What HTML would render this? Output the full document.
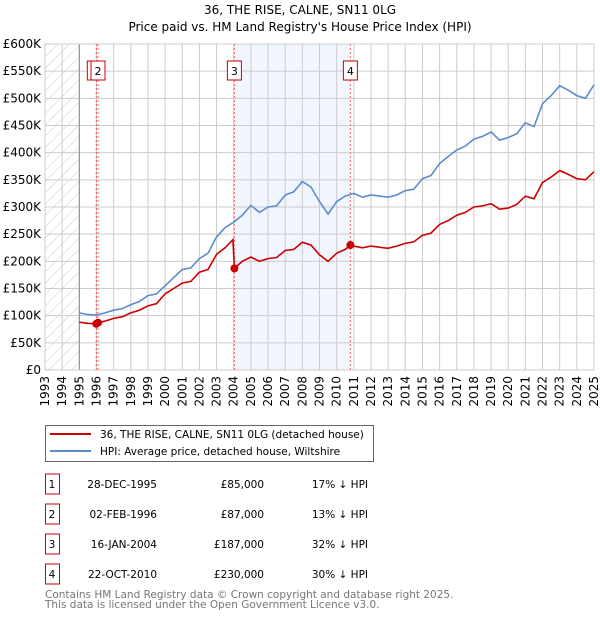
<!DOCTYPE html>
<html><head><meta charset="utf-8"><style>
body{margin:0;background:#fff;font-family:"DejaVu Sans","Liberation Sans",sans-serif;}
svg text{font-family:"DejaVu Sans","Liberation Sans",sans-serif;}
</style></head><body>
<svg id="chart" width="600" height="620" xmlns="http://www.w3.org/2000/svg">
<defs><pattern id="hatch" width="8" height="8" patternUnits="userSpaceOnUse" patternTransform="rotate(45)"><line x1="0" y1="0" x2="0" y2="8" stroke="#ccc" stroke-width="1"/></pattern></defs>
<text x="300" y="14" text-anchor="middle" font-size="12">36, THE RISE, CALNE, SN11 0LG</text>
<text x="300" y="31" text-anchor="middle" font-size="12">Price paid vs. HM Land Registry's House Price Index (HPI)</text>
<g id="plot"></g>
<g>
<rect x="45.5" y="425.5" width="328" height="36" fill="#fff" stroke="#666"/>
<line x1="50" y1="434" x2="91" y2="434" stroke="#cc0000" stroke-width="2"/>
<text x="100" y="438" font-size="10.5">36, THE RISE, CALNE, SN11 0LG (detached house)</text>
<line x1="50" y1="451" x2="91" y2="451" stroke="#5b8ccc" stroke-width="2"/>
<text x="100" y="455" font-size="10.5">HPI: Average price, detached house, Wiltshire</text>
</g>
<g id="table" font-size="10.5"></g>
<text x="45" y="598" font-size="10.5" fill="#777">Contains HM Land Registry data © Crown copyright and database right 2025.</text>
<text x="45" y="608" font-size="10.5" fill="#777">This data is licensed under the Open Government Licence v3.0.</text>
</svg>
<script>
const hpiYears=[1995,1995.5,1996,1996.5,1997,1997.5,1998,1998.5,1999,1999.5,2000,2000.5,2001,2001.5,2002,2002.5,2003,2003.5,2004,2004.5,2005,2005.5,2006,2006.5,2007,2007.5,2008,2008.5,2009,2009.5,2010,2010.5,2011,2011.5,2012,2012.5,2013,2013.5,2014,2014.5,2015,2015.5,2016,2016.5,2017,2017.5,2018,2018.5,2019,2019.5,2020,2020.5,2021,2021.5,2022,2022.5,2023,2023.5,2024,2024.5,2025];
const hpiValues=[105,102,101,105,110,113,120,126,137,140,155,170,185,188,205,215,245,262,272,285,303,290,300,302,322,328,347,337,310,287,310,320,325,318,322,320,318,322,330,333,352,358,380,393,405,412,425,430,438,423,428,435,455,448,490,505,523,515,505,500,525];
const redYears=[1995,1995.5,1995.99,1996.09,1996.5,1997,1997.5,1998,1998.5,1999,1999.5,2000,2000.5,2001,2001.5,2002,2002.5,2003,2003.5,2003.95,2004.04,2004.5,2005,2005.5,2006,2006.5,2007,2007.5,2008,2008.5,2009,2009.5,2010,2010.5,2010.8,2011,2011.5,2012,2012.5,2013,2013.5,2014,2014.5,2015,2015.5,2016,2016.5,2017,2017.5,2018,2018.5,2019,2019.5,2020,2020.5,2021,2021.5,2022,2022.5,2023,2023.5,2024,2024.5,2025];
const redValues=[88,86,85,87,90,95,98,105,110,118,122,140,150,160,163,180,185,213,225,240,187,200,208,200,205,207,220,222,235,230,212,200,215,222,230,228,225,228,226,224,228,233,236,248,252,268,275,285,290,300,302,306,296,298,305,320,315,345,355,367,360,352,350,365];
const saleLabels=["1","2","3","4"];
const saleYears=[1995.99,1996.09,2004.04,2010.8];
const saleValues=[85,87,187,230];
const saleDates=["28-DEC-1995","02-FEB-1996","16-JAN-2004","22-OCT-2010"];
const salePrices=["£85,000","£87,000","£187,000","£230,000"];
const saleDiffs=["17% ↓ HPI","13% ↓ HPI","32% ↓ HPI","30% ↓ HPI"];
const yTicks=[0,50,100,150,200,250,300,350,400,450,500,550,600];
const yTickLabels=["£0","£50K","£100K","£150K","£200K","£250K","£300K","£350K","£400K","£450K","£500K","£550K","£600K"];

const X0=45,X1=594,Y0=370,Y1=44;
const x=v=>X0+(v-1993)*(X1-X0)/32;
const y=v=>Y0-v*(Y0-Y1)/600;
const NS="http://www.w3.org/2000/svg";
const plot=document.getElementById('plot');
function mk(tag,attrs,parent){const e=document.createElementNS(NS,tag);for(const k in attrs)e.setAttribute(k,attrs[k]);(parent||plot).appendChild(e);return e;}

let bg=mk('rect',{x:X0,y:Y1,width:X1-X0,height:Y0-Y1,fill:'#fff'});


let sh=mk('rect',{x:x(2004.04),y:Y1,width:x(2010.8)-x(2004.04),height:Y0-Y1,fill:'#eef3fc',opacity:0.8});


let ht=mk('rect',{x:X0,y:Y1,width:x(1995)-X0,height:Y0-Y1,fill:'url(#hatch)'});


for(let yr=1993;yr<=2025;yr++){
  let g=mk('line',{x1:x(yr),x2:x(yr),y1:Y1,y2:Y0,stroke:'#ccc','stroke-width':1});
  
  
  let t=mk('text',{x:0,y:0,'font-size':12,'text-anchor':'end',transform:`translate(${x(yr)+4},${Y0+6}) rotate(-90)`});
  t.textContent=yr;
  
  
}
yTicks.forEach((v,i)=>{
  let g=mk('line',{x1:X0,x2:X1,y1:y(v),y2:y(v),stroke:'#ccc','stroke-width':1});
  
  
  let t=mk('text',{x:X0-4,y:y(v)+4,'font-size':12,'text-anchor':'end'});
  t.textContent=yTickLabels[i];
  
  
});
let ax=mk('line',{x1:x(1995),x2:x(1995),y1:Y1,y2:Y0,stroke:'#888'});


let fr=mk('rect',{x:X0,y:Y1,width:X1-X0,height:Y0-Y1,fill:'none',stroke:'#ccc'});


saleYears.forEach((s,i)=>{
  let l=mk('line',{x1:x(s),x2:x(s),y1:Y1,y2:Y0,stroke:'#e66','stroke-width':1,'stroke-dasharray':'2,2'});
  
  
});
function path(xs,vs){return xs.map((v,i)=>(i?'L':'M')+x(v).toFixed(1)+','+y(vs[i]).toFixed(1)).join('');}
let hp=mk('path',{d:path(hpiYears,hpiValues),fill:'none',stroke:'#5b8ccc','stroke-width':1.6});


let rp=mk('path',{d:path(redYears,redValues),fill:'none',stroke:'#cc0000','stroke-width':1.6});


saleYears.forEach((s,i)=>{
  let c=mk('circle',{cx:x(s),cy:y(saleValues[i]),r:4,fill:'#cc0000'});
  
  
  let bx=x(s)-(i===0?9:7);
  let r=mk('rect',{x:bx,y:61,width:14,height:19,fill:'#fff',stroke:'#cc0000'});
  
  
  let t=mk('text',{x:bx+7,y:75,'font-size':11,'text-anchor':'middle'});
  t.textContent=saleLabels[i];
  
  
});
const tbl=document.getElementById('table');
const rowY=[483,513,543,573];
saleLabels.forEach((lab,i)=>{
  let r=mk('rect',{x:45.5,y:rowY[i]-9,width:14,height:20,fill:'#fff',stroke:'#cc0000'},tbl);
  
  
  let cols=[[52,lab,'middle'],[157,saleDates[i],'end'],[264,salePrices[i],'end'],[368,saleDiffs[i],'end']];
  cols.forEach(c=>{
    let t=mk('text',{x:c[0],y:rowY[i]+5,'text-anchor':c[2]},tbl);
    t.textContent=c[1];
    
    
  });
});
</script>
</body></html>
